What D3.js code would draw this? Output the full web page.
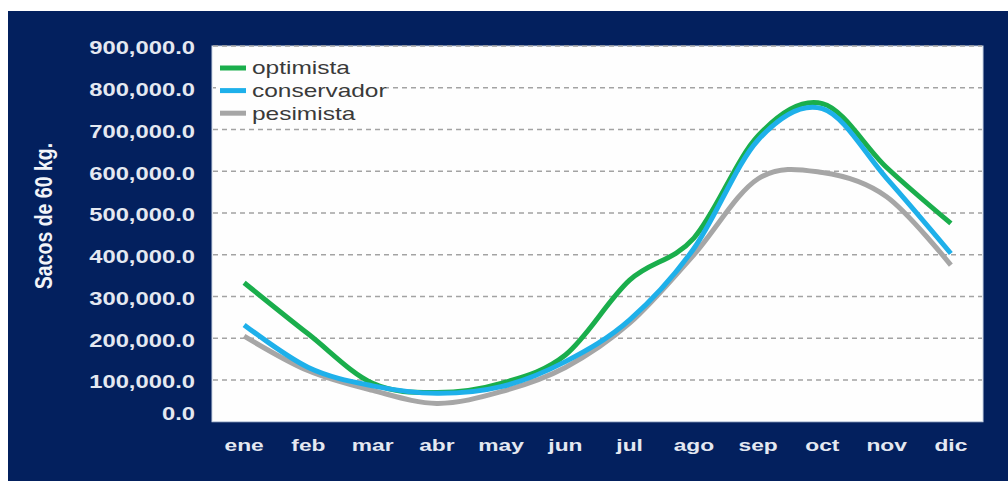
<!DOCTYPE html>
<html>
<head>
<meta charset="utf-8">
<script src="https://cdn.jsdelivr.net/npm/d3@7"></script>
<style>
  html, body { margin: 0; padding: 0; background: #fff; }
  svg { display: block; }
</style>
</head>
<body>
<div id="vis"></div>
<script>
// datos (sacos de 60 kg)
const meses = ["ene", "feb", "mar", "abr", "may", "jun", "jul", "ago", "sep", "oct", "nov", "dic"];
const optimista   = [333000, 210000, 92000, 70000, 92000, 160000, 339000, 440000, 685000, 762000, 609000, 475000];
const conservador = [232000, 130000, 86000, 68000, 84000, 144000, 244000, 415000, 675000, 750000, 583000, 403000];
const pesimista   = [205000, 122000, 75000, 44000, 72000, 130000, 236000, 400000, 582000, 597000, 539000, 375000];
const yTicks = [0, 100000, 200000, 300000, 400000, 500000, 600000, 700000, 800000, 900000];

const series = [
  { name: "pesimista",   values: pesimista,   color: "#a6a6a6" },
  { name: "optimista",   values: optimista,   color: "#1aae4c" },
  { name: "conservador", values: conservador, color: "#1eb0ea" }
];
const legendOrder = ["optimista", "conservador", "pesimista"];

const WIDTH = 1008;
const HEIGHT = 481;
const plot = { left: 212, right: 983, top: 46, bottom: 421.75 };
const stretch = 1.36; // el original tiene el texto estirado a lo ancho

const svg = d3.select("#vis")
  .append("svg")
  .attr("width", WIDTH)
  .attr("height", HEIGHT);

// fondo azul oscuro
svg.append("rect")
  .attr("x", 8).attr("y", 11)
  .attr("width", WIDTH - 8).attr("height", HEIGHT - 11)
  .attr("fill", "#03205e");

// area de trazado
svg.append("rect")
  .attr("x", plot.left).attr("y", plot.top)
  .attr("width", plot.right - plot.left).attr("height", plot.bottom - plot.top)
  .attr("fill", "#fefefe")
  .attr("stroke", "#c9d3e4")
  .attr("stroke-width", 1);

const x = d3.scalePoint().domain(meses).range([plot.left, plot.right]).padding(0.5);
const y = d3.scaleLinear().domain([0, 900000]).range([plot.bottom, plot.top]);
const fmt = d3.format(",.1f");

// lineas de division
svg.append("g")
  .selectAll("line")
  .data(yTicks.filter(d => d > 0))
  .join("line")
  .attr("x1", plot.left + 1).attr("x2", plot.right - 1)
  .attr("y1", d => y(d)).attr("y2", d => y(d))
  .attr("stroke", "#a3a3a3")
  .attr("stroke-width", 1.3)
  .attr("stroke-dasharray", "5,4");

// etiquetas eje y
svg.append("g")
  .selectAll("g")
  .data(yTicks)
  .join("g")
  .attr("transform", d => `translate(195,${y(d) + (d === 0 ? -8 : 2)}) scale(${stretch},1)`)
  .append("text")
  .attr("text-anchor", "end")
  .attr("dy", "0.36em")
  .attr("font-family", "Liberation Sans, Arial, sans-serif")
  .attr("font-weight", "bold")
  .attr("font-size", 17.5)
  .attr("fill", "#e4e8f1")
  .text(d => fmt(d));

// etiquetas eje x
svg.append("g")
  .selectAll("g")
  .data(meses)
  .join("g")
  .attr("transform", d => `translate(${x(d)},445) scale(1.34,1)`)
  .append("text")
  .attr("text-anchor", "middle")
  .attr("dy", "0.36em")
  .attr("font-family", "Liberation Sans, Arial, sans-serif")
  .attr("font-weight", "bold")
  .attr("font-size", 17)
  .attr("fill", "#e4e8f1")
  .text(d => d);

// titulo eje y
svg.append("text")
  .attr("transform", "translate(43,216) rotate(-90) scale(1,1.25)")
  .attr("text-anchor", "middle")
  .attr("dy", "0.36em")
  .attr("font-family", "Liberation Sans, Arial, sans-serif")
  .attr("font-weight", "bold")
  .attr("font-size", 19.5)
  .attr("fill", "#f2f4f8")
  .text("Sacos de 60 kg.");

// lineas suavizadas
const linea = d3.line()
  .x((d, i) => x(meses[i]))
  .y(d => y(d))
  .curve(d3.curveCardinal.tension(0));

svg.append("g")
  .selectAll("path")
  .data(series)
  .join("path")
  .attr("d", d => linea(d.values))
  .attr("fill", "none")
  .attr("stroke", d => d.color)
  .attr("stroke-width", 5)
  .attr("stroke-linejoin", "round");

// leyenda
const leyenda = svg.append("g").attr("transform", "translate(216,57)");
leyenda.append("rect")
  .attr("x", 0).attr("y", 0)
  .attr("width", 170).attr("height", 66)
  .attr("fill", "#fefefe");

const items = leyenda.selectAll("g.item")
  .data(legendOrder.map(n => series.find(s => s.name === n)))
  .join("g")
  .attr("class", "item")
  .attr("transform", (d, i) => `translate(0,${11 + i * 22.6})`);

items.append("line")
  .attr("x1", 4).attr("x2", 30)
  .attr("y1", 0).attr("y2", 0)
  .attr("stroke", d => d.color)
  .attr("stroke-width", 5);

items.append("g")
  .attr("transform", `translate(36,0) scale(1.36,1)`)
  .append("text")
  .attr("dy", "0.36em")
  .attr("font-family", "Liberation Sans, Arial, sans-serif")
  .attr("font-size", 18)
  .attr("fill", "#3a3a3a")
  .text(d => d.name);
</script>
</body>
</html>
